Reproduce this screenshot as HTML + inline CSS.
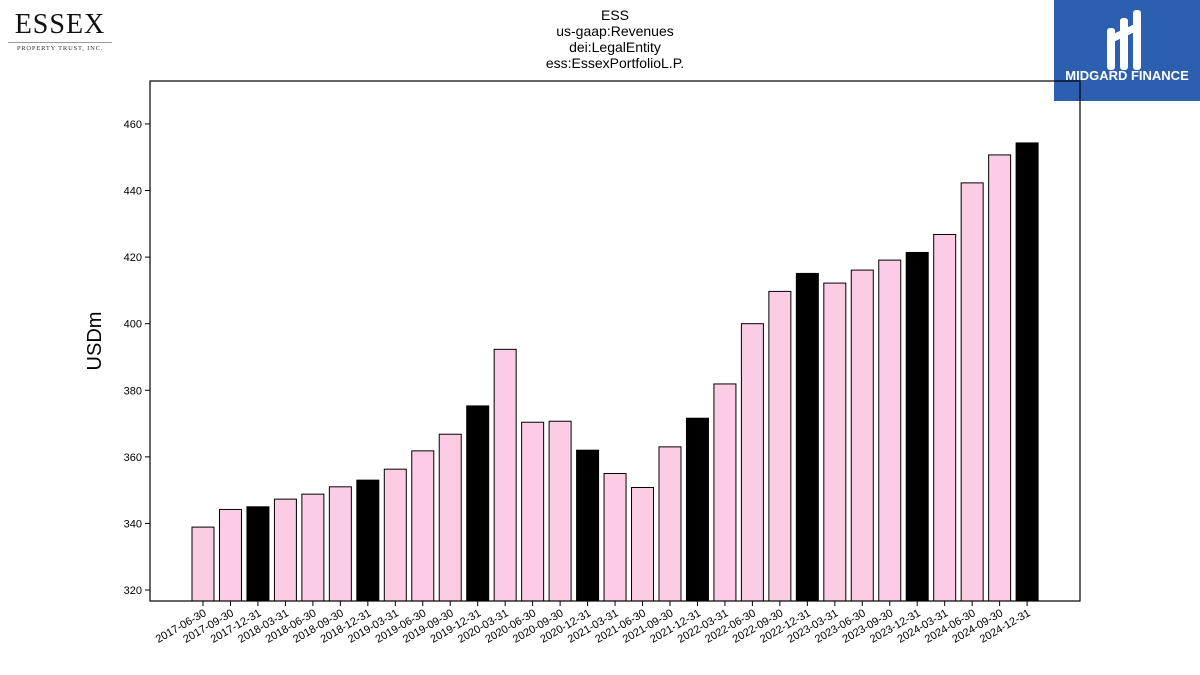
<!DOCTYPE html>
<html><head><meta charset="utf-8"><style>
body{margin:0;background:#fff;font-family:"Liberation Sans","DejaVu Sans",sans-serif;}
#wrap{position:relative;width:1200px;height:675px;overflow:hidden;}
</style></head><body>
<div id="wrap">
<div style="position:absolute;left:8px;top:10px;width:104px;text-align:center;">
<div style="font-family:'Liberation Serif',serif;font-size:28px;letter-spacing:1px;color:#111;line-height:30px;">ESSEX</div>
<div style="border-top:1px solid #999;margin-top:2px;font-family:'Liberation Serif',serif;font-size:6.5px;letter-spacing:0.8px;color:#333;padding-top:2px;">PROPERTY TRUST, INC.</div>
</div>
<div style="position:absolute;left:1054px;top:0;width:146px;height:101px;background:#2d5fb0;">
<svg width="146" height="70" style="position:absolute;left:0;top:0"><g fill="#fff"><rect x="53" y="28" width="8" height="42" rx="3"/><rect x="66" y="18" width="8" height="52" rx="3"/><rect x="79" y="10" width="8" height="60" rx="3"/><path d="M55 36 L85 22 L85 30 L55 44Z"/></g></svg>
<div style="position:absolute;top:68px;width:146px;text-align:center;color:#fff;font-weight:bold;font-size:13px;">MIDGARD FINANCE</div>
</div>
<div style="position:absolute;left:415px;width:400px;top:7px;text-align:center;font-size:14px;line-height:16px;color:#000;">ESS<br>us-gaap:Revenues<br>dei:LegalEntity<br>ess:EssexPortfolioL.P.</div>
<svg id="chart" width="1200" height="675" style="position:absolute;left:0;top:0"></svg>
</div>
<script>
const categories=["2017-06-30","2017-09-30","2017-12-31","2018-03-31","2018-06-30","2018-09-30","2018-12-31","2019-03-31","2019-06-30","2019-09-30","2019-12-31","2020-03-31","2020-06-30","2020-09-30","2020-12-31","2021-03-31","2021-06-30","2021-09-30","2021-12-31","2022-03-31","2022-06-30","2022-09-30","2022-12-31","2023-03-31","2023-06-30","2023-09-30","2023-12-31","2024-03-31","2024-06-30","2024-09-30","2024-12-31"];
const revenues=[338.9,344.2,345,347.3,348.8,351,353,356.3,361.8,366.8,375.3,392.3,370.4,370.7,362,355,350.8,363,371.6,381.9,400,409.7,415.1,412.2,416.1,419.1,421.4,426.8,442.3,450.7,454.3];
const yTicks=[320,340,360,380,400,420,440,460];
const NS="http://www.w3.org/2000/svg";
const svg=document.getElementById('chart');
const L=150,R=1080,T=81,B=601,yMin=316.7,yMax=472.9;
const y=v=>B-(v-yMin)/(yMax-yMin)*(B-T);
const step=27.47,x0=203;
const x=i=>x0+i*step;
function mk(t,a){const e=document.createElementNS(NS,t);for(const k in a)e.setAttribute(k,a[k]);svg.appendChild(e);return e;}
categories.forEach((c,i)=>{
 const v=revenues[i];
 const r=mk('rect',{x:x(i)-11,y:y(v),width:22,height:B-y(v),fill:c.endsWith('12-31')?'#000':'#fccbe4',stroke:'#000','stroke-width':1});
 
 
 const tk=mk('line',{x1:x(i),x2:x(i),y1:B,y2:B+5,stroke:'#000'});
 
 
 const t=mk('text',{x:x(i)+4,y:B+14,'font-size':11,'text-anchor':'end',transform:`rotate(-30 ${x(i)+4} ${B+14})`});
 t.textContent=c;
 
 
});
yTicks.forEach(v=>{
 const tk=mk('line',{x1:L-5,x2:L,y1:y(v),y2:y(v),stroke:'#000'});
 
 
 const t=mk('text',{x:L-8,y:y(v)+4,'font-size':11,'text-anchor':'end'});
 t.textContent=v;
 
 
});
const ax=mk('rect',{x:L,y:T,width:R-L,height:B-T,fill:'none',stroke:'#000','stroke-width':1.2});


const yl=mk('text',{x:101,y:341,'font-size':20,'text-anchor':'middle',transform:'rotate(-90 101 341)'});
yl.textContent='USDm';


</script>
</body></html>
